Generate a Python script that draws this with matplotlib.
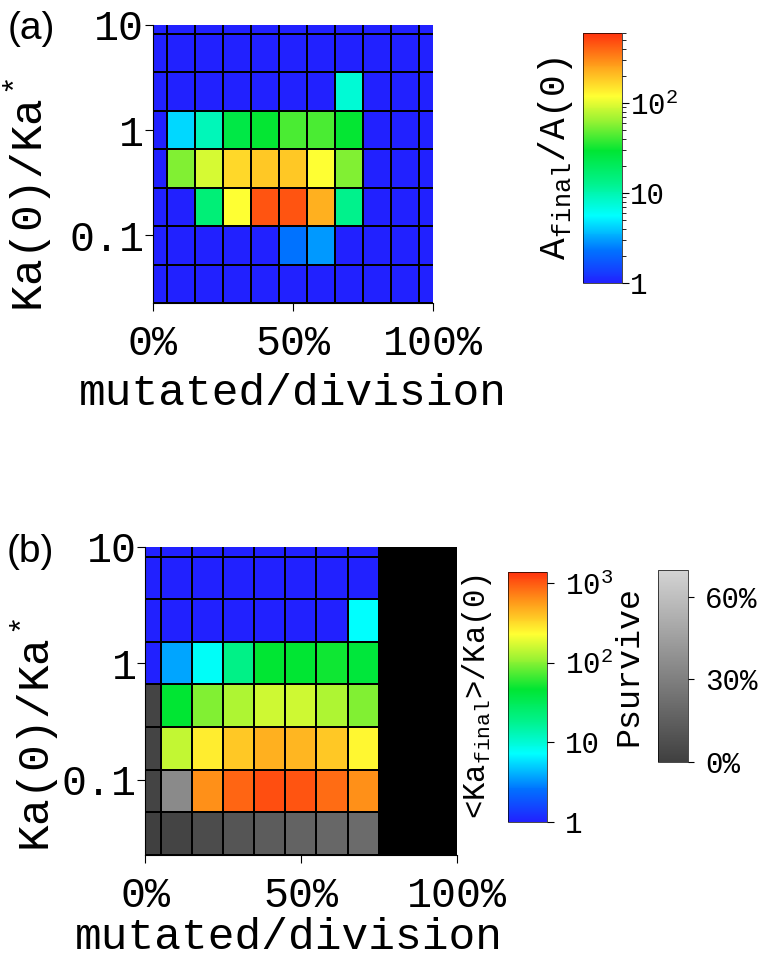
import numpy as np
import matplotlib.pyplot as plt
from matplotlib.colors import LinearSegmentedColormap, LogNorm, Normalize
from matplotlib.cm import ScalarMappable

plt.rcParams['font.family'] = ['Liberation Mono', 'DejaVu Sans Mono']
plt.rcParams['mathtext.fontset'] = 'custom'
plt.rcParams['mathtext.rm'] = 'Liberation Mono'
plt.rcParams['mathtext.it'] = 'Liberation Mono'
plt.rcParams['mathtext.bf'] = 'Liberation Mono'

nan = np.nan

# mutated cells per division (%)
mutated = [0, 10, 20, 30, 40, 50, 60, 70, 80, 90, 100]
# Ka(0)/Ka*, top row first
ka_ratio = [12.53, 5.40, 2.32, 1.0, 0.431, 0.185, 0.0798, 0.0344]

# (a) A_final/A(0)
a_growth = [
    [1, 1, 1, 1, 1, 1, 1, 1, 1, 1, 1],
    [1, 1, 1, 1, 1, 1, 1, 1, 1, 1, 1],
    [1, 1, 1, 1, 1, 1, 1, 7.7, 1, 1, 1],
    [1, 4.4, 9.4, 24.5, 30, 43, 43, 30, 1, 1, 1],
    [1, 56, 94, 167, 190, 190, 121, 56, 1, 1, 1],
    [1, 1, 16, 121, 465, 465, 230, 13, 1, 1, 1],
    [1, 1, 1, 1, 1, 2.3, 3.0, 1, 1, 1, 1],
    [1, 1, 1, 1, 1, 1, 1, 1, 1, 1, 1],
]

# (b) <Ka_final>/Ka(0), only where the population survives
ka_growth = [
    [1, 1, 1, 1, 1, 1, 1, 1, nan, nan, nan],
    [1, 1, 1, 1, 1, 1, 1, 1, nan, nan, nan],
    [1, 1, 1, 1, 1, 1, 1, 7.1, nan, nan, nan],
    [1, 3.7, 7.6, 19.5, 46, 46, 50, 43, nan, nan, nan],
    [nan, 46, 96, 128, 160, 160, 128, 96, nan, nan, nan],
    [nan, 148, 265, 380, 470, 440, 380, 245, nan, nan, nan],
    [nan, nan, 630, 910, 1100, 1050, 850, 630, nan, nan, nan],
    [nan, nan, nan, nan, nan, nan, nan, nan, nan, nan, nan],
]

# (b) Psurvive (%) for the grey cells
psurvive = [
    [nan] * 11,
    [nan] * 11,
    [nan] * 11,
    [nan] * 11,
    [2, nan, nan, nan, nan, nan, nan, nan, nan, nan, nan],
    [2, nan, nan, nan, nan, nan, nan, nan, nan, nan, nan],
    [2, 35, nan, nan, nan, nan, nan, nan, nan, nan, nan],
    [0, 2, 6, 10, 13.5, 16.5, 18.4, 20.4, nan, nan, nan],
]

cmap = LinearSegmentedColormap.from_list('rb', [
    (0.0, (0.13, 0.13, 1.0)),
    (0.13, (0.0, 0.45, 1.0)),
    (0.27, (0.0, 1.0, 1.0)),
    (0.40, (0.0, 0.95, 0.55)),
    (0.53, (0.0, 0.9, 0.2)),
    (0.65, (0.6, 0.95, 0.2)),
    (0.75, (1.0, 1.0, 0.2)),
    (0.88, (1.0, 0.6, 0.1)),
    (1.0, (1.0, 0.2, 0.05)),
])
gcmap = LinearSegmentedColormap.from_list('gr', [(0.25, 0.25, 0.25), (0.83, 0.83, 0.83)])

# cell edges
xs = np.array(mutated, dtype=float)
x_edges = np.concatenate([[xs[0] - 5], (xs[:-1] + xs[1:]) / 2, [xs[-1] + 5]])
ly = np.log10(ka_ratio)
y_edges = 10 ** np.concatenate([[ly[0] + (ly[0] - ly[1]) / 2], (ly[:-1] + ly[1:]) / 2,
                                [ly[-1] - (ly[-2] - ly[-1]) / 2]])


def style_axes(ax):
    ax.set_yscale('log')
    ax.set_xlim(0, 100)
    ax.set_ylim(y_edges[-1], 10)
    ax.set_xticks([0, 50, 100])
    ax.set_xticklabels(['0%', '50%', '100%'])
    ax.set_yticks([0.1, 1, 10])
    ax.set_yticklabels(['0.1', '1', '10'])
    ax.yaxis.set_minor_locator(plt.NullLocator())
    ax.tick_params(axis='both', labelsize=30, direction='out', length=6, width=0.8)
    ax.tick_params(axis='x', pad=9)
    ax.tick_params(axis='y', pad=0)
    for s in ['top', 'right']:
        ax.spines[s].set_visible(False)
    for s in ['left', 'bottom']:
        ax.spines[s].set_linewidth(0.8)
    ax.set_xlabel('mutated/division', fontsize=32)
    ax.set_ylabel('Ka(0)/Ka$^*$', fontsize=32)


fig = plt.figure(figsize=(7.66, 9.65), dpi=100)
ax_a = fig.add_axes([0.1993, 0.686, 0.3655, 0.2881])
cax_a = fig.add_axes([0.7615, 0.7064, 0.0501, 0.2591])
ax_b = fig.add_axes([0.1893, 0.1140, 0.4069, 0.3195])
cax_b = fig.add_axes([0.6636, 0.1485, 0.0501, 0.2591])
cax_p = fig.add_axes([0.8594, 0.2107, 0.0392, 0.1987])

# panel (a)
norm_a = LogNorm(1, 600)
ax_a.pcolormesh(x_edges, y_edges, np.array(a_growth), cmap=cmap, norm=norm_a,
                edgecolors='k', linewidth=1.2)
style_axes(ax_a)
ax_a.xaxis.set_label_coords(0.5, -0.25)
ax_a.yaxis.set_label_coords(-0.35, 0.39)

cb_a = fig.colorbar(ScalarMappable(norm=norm_a, cmap=cmap), cax=cax_a)
cb_a.set_ticks([1, 10, 100])
cb_a.set_ticklabels(['1', '10', '10$^2$'])
cb_a.ax.tick_params(labelsize=21, length=5, width=0.8, pad=1)
cb_a.ax.tick_params(which='minor', length=3, width=0.6)
cb_a.outline.set_linewidth(0.5)
cb_a.ax.yaxis.set_label_position('left')
cb_a.set_label('A$_{\\mathrm{final}}$/A(0)', fontsize=26, labelpad=6)

# panel (b)
ax_b.set_facecolor('black')
ax_b.pcolormesh(x_edges, y_edges, np.ma.masked_invalid(psurvive), cmap=gcmap,
                norm=Normalize(0, 70), edgecolors='k', linewidth=1.2)
norm_b = LogNorm(1, 1400)
ax_b.pcolormesh(x_edges, y_edges, np.ma.masked_invalid(ka_growth), cmap=cmap, norm=norm_b,
                edgecolors='k', linewidth=1.2)
style_axes(ax_b)
ax_b.xaxis.set_label_coords(0.46, -0.20)
ax_b.yaxis.set_label_coords(-0.266, 0.39)

cb_b = fig.colorbar(ScalarMappable(norm=norm_b, cmap=cmap), cax=cax_b)
cb_b.set_ticks([1, 10, 100, 1000])
cb_b.set_ticklabels(['1', '10', '10$^2$', '10$^3$'])
cb_b.ax.yaxis.set_minor_locator(plt.NullLocator())
cb_b.ax.tick_params(labelsize=21, length=5, width=0.8, pad=8)
cb_b.outline.set_linewidth(0.5)
cb_b.ax.yaxis.set_label_position('left')
cb_b.set_label('<Ka$_{\\mathrm{final}}$>/Ka(0)', fontsize=22, labelpad=10)

cb_p = fig.colorbar(ScalarMappable(norm=Normalize(0, 70), cmap=gcmap), cax=cax_p)
cb_p.set_ticks([0, 30, 60])
cb_p.set_ticklabels(['0%', '30%', '60%'])
cb_p.ax.tick_params(labelsize=21, length=4, width=0.8, pad=8)
cb_p.outline.set_linewidth(0.5)
cb_p.ax.yaxis.set_label_position('left')
cb_p.set_label('Psurvive', fontsize=24, labelpad=10)

fig.text(0.010, 0.970, '(a)', fontsize=28, family=['Liberation Sans', 'DejaVu Sans'],
         va='center', ha='left')
fig.text(0.008, 0.428, '(b)', fontsize=28, family=['Liberation Sans', 'DejaVu Sans'],
         va='center', ha='left')

fig.savefig('out.png', dpi=100)
